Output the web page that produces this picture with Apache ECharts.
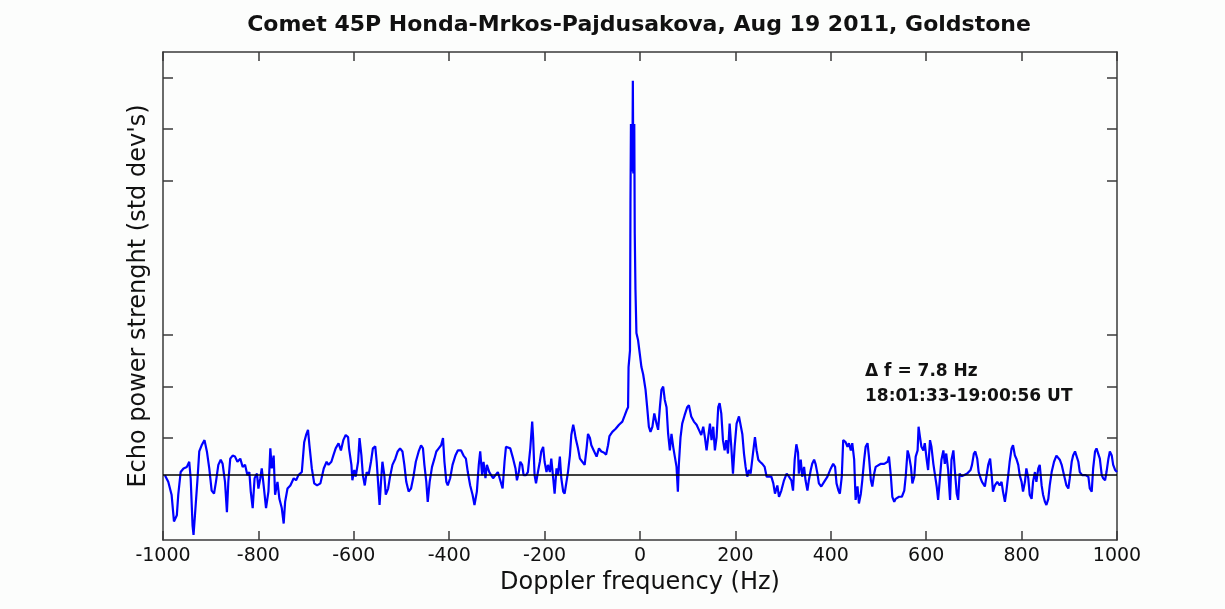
<!DOCTYPE html>
<html>
<head>
<meta charset="utf-8">
<title>Comet 45P echo spectrum</title>
<script src="https://cdn.jsdelivr.net/npm/echarts@6/dist/echarts.min.js"></script>
<style>
  html, body { margin: 0; padding: 0; background: #fcfdfc; }
  #chart { width: 1225px; height: 609px; }
</style>
</head>
<body>
<div id="chart"></div>
<script>
// Doppler frequency (Hz)
var freqHz = [
  -996, -989, -982, -977, -971, -968, -963, -957, -950, -945, -942, -938, -936, -933, -928, -924, -919, -913, -908, -903,
  -898, -893, -889, -884, -879, -875, -870, -866, -863, -859, -854, -849, -844, -838, -833, -828, -823, -819, -816, -812,
  -808, -803, -800, -796, -793, -789, -784, -779, -775, -772, -768, -765, -760, -756, -751, -747, -744, -739, -733, -726,
  -721, -716, -709, -704, -700, -696, -693, -688, -683, -677, -670, -663, -657,
  -653, -647, -643, -638, -632, -627, -622, -617, -612, -610, -605, -603, -599, -596, -591, -588, -584, -581, -577, -573,
  -569, -564, -560, -555, -552, -548, -546, -543, -540, -536, -533, -528, -524, -519, -513, -508, -503, -498, -494, -490,
  -485, -480, -475, -470, -464, -459, -455, -452, -448, -445, -441, -436, -431, -427, -422, -417, -413, -410, -406, -403,
  -398, -393, -387, -382, -375, -370, -365, -361, -356, -351, -347, -342, -338, -335, -331, -328, -324, -321, -316,
  -308, -303, -298, -293, -288, -284, -281, -277, -272, -266, -261, -258, -254, -251, -247, -244, -239, -235, -230, -226,
  -224, -221, -218, -214, -210, -207, -203, -200, -196, -193, -189, -186, -182, -179, -175, -172, -168, -165, -161, -158,
  -154, -151, -147, -144, -140, -137, -135, -130, -126, -121, -116, -112, -109, -105, -102, -97, -91, -86, -81, -76,
  -71, -67, -64, -58, -51, -44, -37, -32, -28, -25,
  -24, -21, -20, -19, -18, -16, -15, -14, -12, -11, -9.5, -7.5, -4, -0.5, 3, 6.6,
  11.6, 15, 18.6, 22, 26, 30, 34.7, 38, 41.7, 45, 48.6, 52, 55.6, 59, 62.6, 66, 69.6, 73, 76.6, 79.4,
  81.5, 85, 88.5, 93.4, 99, 102.5, 107.4, 113, 118.6, 123.5, 128.4, 132.6, 136, 139.6, 143, 146.6, 150, 153.6, 157, 160.6,
  164, 166.9, 170.4, 173.9, 177.4, 180.9, 184.4, 187.9, 191.4, 194.9, 198.4, 202.5, 207.5, 211, 214.5, 218, 221.4, 224.9, 228.4, 231.9,
  236.8, 241, 244.5, 248, 251.5, 256.4, 261.3, 265.5, 270.4, 275.3, 279.5, 283, 287.9, 291.4, 296.3, 301.9, 307.5, 312.4, 317.3, 320.8,
  324.3, 327.8, 331.3,
  333, 337, 340, 344, 347, 351, 354, 358, 361, 365, 368, 372, 375, 380, 386, 393, 400, 405, 409, 412,
  416, 419, 423, 426, 431, 435, 438, 442, 445, 449, 452, 456, 459, 463, 466, 470, 473, 477, 480, 484,
  487, 491, 494, 498, 505, 512, 519, 522, 526, 529, 533, 536, 540, 543, 549, 554, 557, 561, 564, 568,
  571, 575, 578, 582, 584, 587, 590, 594, 597, 601, 604, 608, 611, 615, 618, 622, 625, 629, 632, 636,
  639, 642, 646, 650, 653, 657, 660, 664, 667, 670, 674,
  679, 686, 693, 696, 700, 703, 707, 710, 714, 717, 723, 726, 730, 734, 737, 740, 744, 749, 754, 758,
  761, 765, 768, 772, 775, 779, 782, 786, 789, 793, 796, 800, 803, 807, 810, 814, 817, 821, 824, 828,
  831, 835, 838, 842, 845, 849, 852, 856, 859, 863, 868, 873, 877, 880, 884, 889, 894, 898, 901, 905,
  908, 912, 915, 919, 922, 927, 934, 940, 943, 947, 950, 954, 957, 961, 964, 968, 971, 975, 978, 982,
  985, 989, 992, 996, 1000
];

// echo power (std dev's)
var echoPower = [
  0, -0.65, -1.9, -4.5, -3.9, -1.9, 0.3, 0.65, 0.8, 1.3, -0.3, -4.9, -5.8, -3.9, -0.6, 2.3, 2.9, 3.4, 2.3, 0.65,
  -1.5, -1.8, -0.65, 1.0, 1.5, 1.1, -0.65, -3.6, -0.6, 1.6, 1.9, 1.8, 1.3, 1.6, 0.8, 1.0, 0, 0.3, -1.6, -3.2,
  -0.3, 0.15, -1.3, -0.3, 0.65, -1.0, -3.2, -1.6, 2.6, 0.65, 1.9, -1.9, -0.65, -2.3, -3.2, -4.7, -2.6, -1.3, -1.0, -0.3,
  -0.5, 0, 0.3, 3.2, 3.9, 4.4, 2.9, 0.65, -0.8, -1.0, -0.8, 0.65, 1.3,
  1.0, 1.3, 1.9, 2.6, 3.1, 2.4, 3.4, 3.9, 3.7, 2.6, 1.0, -0.5, 0.5, -0.15, 1.3, 3.6, 1.9, 0, -1.0, 0.3,
  0, 1.3, 2.6, 2.8, 1.3, -1.5, -2.9, -0.65, 1.3, 0, -1.9, -1.3, -0.15, 1.0, 1.6, 2.3, 2.6, 2.3, 1.0, -0.65,
  -1.6, -1.3, -0.15, 1.3, 2.3, 2.9, 2.6, 1.0, -0.65, -2.6, -0.65, 0.8, 1.6, 2.3, 2.6, 2.9, 3.6, 1.3, -0.65, -1.0,
  -0.3, 1.0, 1.9, 2.4, 2.4, 1.9, 1.6, 0.3, -1.0, -1.9, -2.9, -1.6, 1.0, 2.3, 0, 1.3, -0.3, 1.0, 0.3,
  -0.3, 0, 0.3, -0.5, -1.3, 1.3, 2.75, 2.9, 2.6, 1.6, 0.65, -0.5, 0.3, 1.3, 1.0, 0, 0, 0.3, 2.6, 5.2,
  3.6, 0, -0.8, 0.3, 1.3, 2.3, 2.75, 1.3, 0.3, 1.0, 0.3, 1.6, -0.3, -1.8, 0.65, 0, 1.8, -0.3, -1.6, -1.8,
  -1.9, 0.3, 1.9, 3.9, 4.9, 4.2, 3.6, 2.6, 1.6, 1.3, 1.0, 2.6, 4.0, 3.6, 2.9, 2.4, 1.8, 2.6, 2.3, 2.2,
  2.0, 2.9, 3.8, 4.2, 4.5, 4.9, 5.2, 5.8, 6.3, 6.6,
  10.5, 12.1, 26.4, 34.1, 33.5, 29.5, 38.3, 29.3, 34.1, 23.5, 18.0, 13.8, 13.1, 11.8, 10.5, 9.8,
  8.3, 6.6, 4.7, 4.2, 4.7, 6.0, 5.0, 4.4, 6.6, 8.3, 8.6, 7.3, 6.6, 4.0, 2.4, 4.0, 2.75, 1.8, 0.8, -1.6,
  1.1, 3.7, 5.0, 5.8, 6.6, 6.8, 5.7, 5.2, 4.9, 4.4, 3.9, 4.7, 3.7, 2.4, 3.7, 5.0, 3.4, 4.7, 2.4, 3.7,
  6.6, 7.0, 6.0, 3.4, 2.4, 3.4, 2.1, 5.0, 2.75, 0.15, 2.75, 5.0, 5.7, 5.7, 4.0, 2.1, 0.8, -0.15, 0.5, 0.15,
  2.1, 3.7, 2.4, 1.5, 1.3, 1.1, 0.8, -0.15, -0.15, -0.15, -0.8, -1.8, -1.0, -2.1, -1.5, -0.5, 0.15, -0.15, -0.5, -1.5,
  1.5, 3.0, 2.2,
  0.15, 1.5, -0.15, 0.8, -0.5, -1.5, -0.5, 0.5, 1.1, 1.5, 1.1, 0.15, -0.8, -1.1, -0.65, -0.15, 0.65, 1.1, 0.8, -0.8,
  -1.5, -1.8, -0.15, 3.4, 3.2, 2.75, 3.1, 2.4, 3.1, 1.5, -2.4, -1.1, -2.75, -1.8, -0.5, 1.5, 2.75, 3.1, 1.8, -0.5,
  -1.1, 0.15, 0.8, 0.97, 1.1, 1.1, 1.3, 1.8, -0.15, -2.1, -2.6, -2.3, -2.4, -2.1, -2.1, -1.5, -0.15, 2.4, 1.9, 0.8,
  -0.8, -0.15, 1.8, 2.4, 4.7, 3.7, 2.75, 2.4, 3.1, 1.5, 0.5, 3.4, 2.75, 1.1, 0.15, -1.1, -2.4, -0.15, 1.5, 2.4,
  1.1, 2.1, 0.5, -2.4, 1.5, 2.4, 0.5, -1.8, -2.4, 0.15, -0.1,
  0, 0.15, 0.5, 1.0, 2.1, 2.3, 1.6, 0.3, -0.3, -0.65, -1.1, -1.0, 1.0, 1.6, 0.15, -1.6, -1.0, -0.65, -1.0, -0.65,
  -1.6, -2.6, -1.6, 0, 1.3, 2.6, 2.9, 1.9, 1.6, 1.0, 0, -0.65, -1.6, -0.65, 0.65, -0.3, -1.9, -2.3, -0.65, 0.3,
  -0.65, 0.65, 1.0, -1.0, -1.9, -2.6, -2.9, -2.3, -1.0, 0.3, 1.3, 1.9, 1.8, 1.5, 1.0, 0, -1.0, -1.3, -0.3, 1.3,
  1.9, 2.3, 2.3, 1.3, 0.3, 0, 0, -0.15, -1.3, -1.6, 0.65, 2.3, 2.6, 2.75, 1.6, 0, -0.3, -0.5, 0.3, 1.6,
  2.3, 1.9, 1.0, 0.5, 0.3
];

var xTicks = [-1000, -800, -600, -400, -200, 0, 200, 400, 600, 800, 1000];
var yTicks = [3.6, 8.6, 13.6, 28.6, 33.6, 38.6];

var titleText = 'Comet 45P Honda-Mrkos-Pajdusakova, Aug 19 2011, Goldstone';
var noteText = 'Δ f = 7.8 Hz\n18:01:33-19:00:56 UT';

var FONT = 'DejaVu Sans';
var axisLineStyle = { color: '#3a3a3a', width: 1.5 };

var points = [];
for (var i = 0; i < freqHz.length; i++) {
  points.push([freqHz[i], echoPower[i]]);
}

var myChart = echarts.init(document.getElementById('chart'));
var options = {
  backgroundColor: '#fcfdfc',
  animation: false,
  title: {
    text: titleText,
    left: 634,
    top: 9,
    textAlign: 'center',
    textStyle: { fontFamily: FONT, fontSize: 22, fontWeight: 'bold', color: '#111' }
  },
  grid: { left: 163, right: 108, top: 52, bottom: 69, outerBoundsMode: 'none' },
  xAxis: [{
    type: 'value',
    min: -1000, max: 1000, interval: 200,
    name: 'Doppler frequency (Hz)',
    nameLocation: 'middle',
    nameGap: 30,
    nameTextStyle: { fontFamily: FONT, fontSize: 24, color: '#111' },
    axisLine: { show: true, onZero: false, lineStyle: axisLineStyle },
    axisTick: { show: true, inside: true, length: 9, lineStyle: axisLineStyle, customValues: xTicks },
    axisLabel: {
      margin: 7, fontFamily: FONT, fontSize: 19, color: '#111', customValues: xTicks,
      formatter: function (v) { return String(v); }
    },
    splitLine: { show: false }
  }, {
    type: 'value',
    position: 'top',
    min: -1000, max: 1000, interval: 200,
    axisLine: { show: true, onZero: false, lineStyle: axisLineStyle },
    axisTick: { show: true, inside: true, length: 9, lineStyle: axisLineStyle, customValues: xTicks },
    axisLabel: { show: false },
    splitLine: { show: false }
  }],
  yAxis: [{
    type: 'value',
    min: -6.3, max: 41.1,
    name: "Echo power strenght (std dev's)",
    nameLocation: 'middle',
    nameGap: 12,
    nameTextStyle: { fontFamily: FONT, fontSize: 24, color: '#111' },
    axisLine: { show: true, onZero: false, lineStyle: axisLineStyle },
    axisTick: { show: true, inside: true, length: 10, lineStyle: axisLineStyle, customValues: yTicks },
    axisLabel: { show: false },
    splitLine: { show: false }
  }, {
    type: 'value',
    position: 'right',
    min: -6.3, max: 41.1,
    axisLine: { show: true, onZero: false, lineStyle: axisLineStyle },
    axisTick: { show: true, inside: true, length: 10, lineStyle: axisLineStyle, customValues: yTicks },
    axisLabel: { show: false },
    splitLine: { show: false }
  }],
  graphic: [{
    type: 'text',
    left: 865,
    top: 359,
    style: {
      text: noteText,
      fill: '#111',
      font: 'bold 17px "DejaVu Sans"',
      lineHeight: 25
    }
  }],
  series: [{
    name: 'echo',
    type: 'line',
    data: points,
    showSymbol: false,
    symbol: 'none',
    lineStyle: { color: '#0000ff', width: 2.2 },
    markLine: {
      silent: true,
      symbol: 'none',
      label: { show: false },
      lineStyle: { color: '#000', width: 1.5, type: 'solid' },
      data: [{ yAxis: 0 }]
    },
    z: 3
  }]
};
myChart.setOption(options);
</script>
</body>
</html>
